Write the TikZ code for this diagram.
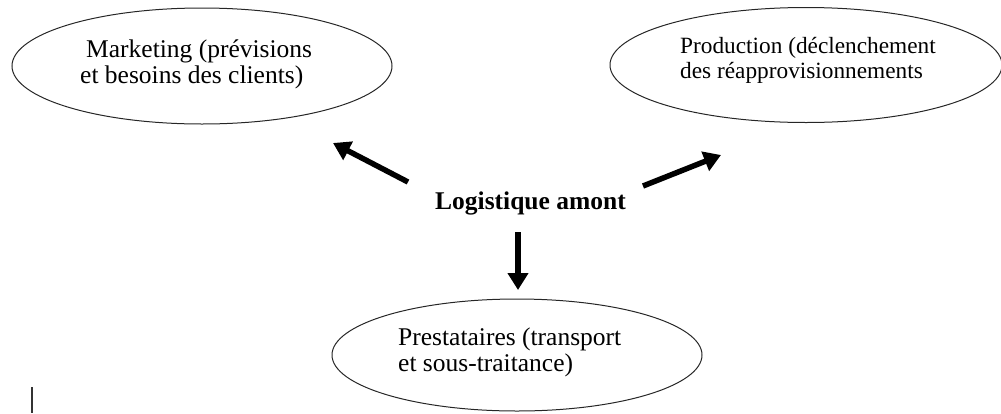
\documentclass[tikz,border=0pt]{standalone}
\usepackage{fontspec}
\setmainfont{Liberation Serif}
\usetikzlibrary{shapes.geometric,arrows.meta}
\begin{document}
\begin{tikzpicture}[x=1pt,y=-1pt,
  bubble/.style={draw=black!85,line width=1pt,ellipse,inner sep=0pt},
  label/.style={inner sep=0pt,anchor=base west,font=\fontsize{25.5}{28}\selectfont},
  smalllabel/.style={label,font=\fontsize{23.3}{26}\selectfont},
  bigarrow/.style={line width=5.5pt,-{Triangle[length=17pt,width=20pt]}}]
\useasboundingbox (0,0) rectangle (1001,413);

% the three partner functions
\node[bubble,minimum width=380pt,minimum height=116pt] (mkt) at (202,66) {};
\node[bubble,minimum width=392pt,minimum height=115pt] (prod) at (806,65) {};
\node[bubble,minimum width=370pt,minimum height=112pt] (prest) at (517,355) {};

\node[label] (mkt1) at (86,57) {Marketing (prévisions};
\node[label] (mkt2) at (80,83) {et besoins des clients)};
\node[smalllabel] (prod1) at (680,53) {Production (déclenchement};
\node[smalllabel] (prod2) at (680,78) {des réapprovisionnements};
\node[label] (prest1) at (398,345) {Prestataires (transport};
\node[label] (prest2) at (398,371) {et sous-traitance)};

% central function
\node[label,font=\fontsize{25.5}{28}\selectfont\bfseries] (log) at (435,209) {Logistique amont};

% arrow ends
\coordinate (lt) at (408,182);
\coordinate (lh) at (333,143);
\coordinate (rt) at (643,186);
\coordinate (rh) at (721,155);
\coordinate (dt) at (518,232);
\coordinate (dh) at (518,290);
\draw[bigarrow] (lt) -- (lh);
\draw[bigarrow] (rt) -- (rh);
\draw[bigarrow] (dt) -- (dh);

% text cursor mark
\coordinate (c1) at (32,387);
\coordinate (c2) at (32,413);
\draw[line width=1.5pt,black!80] (c1) -- (c2);
\end{tikzpicture}
\end{document}
